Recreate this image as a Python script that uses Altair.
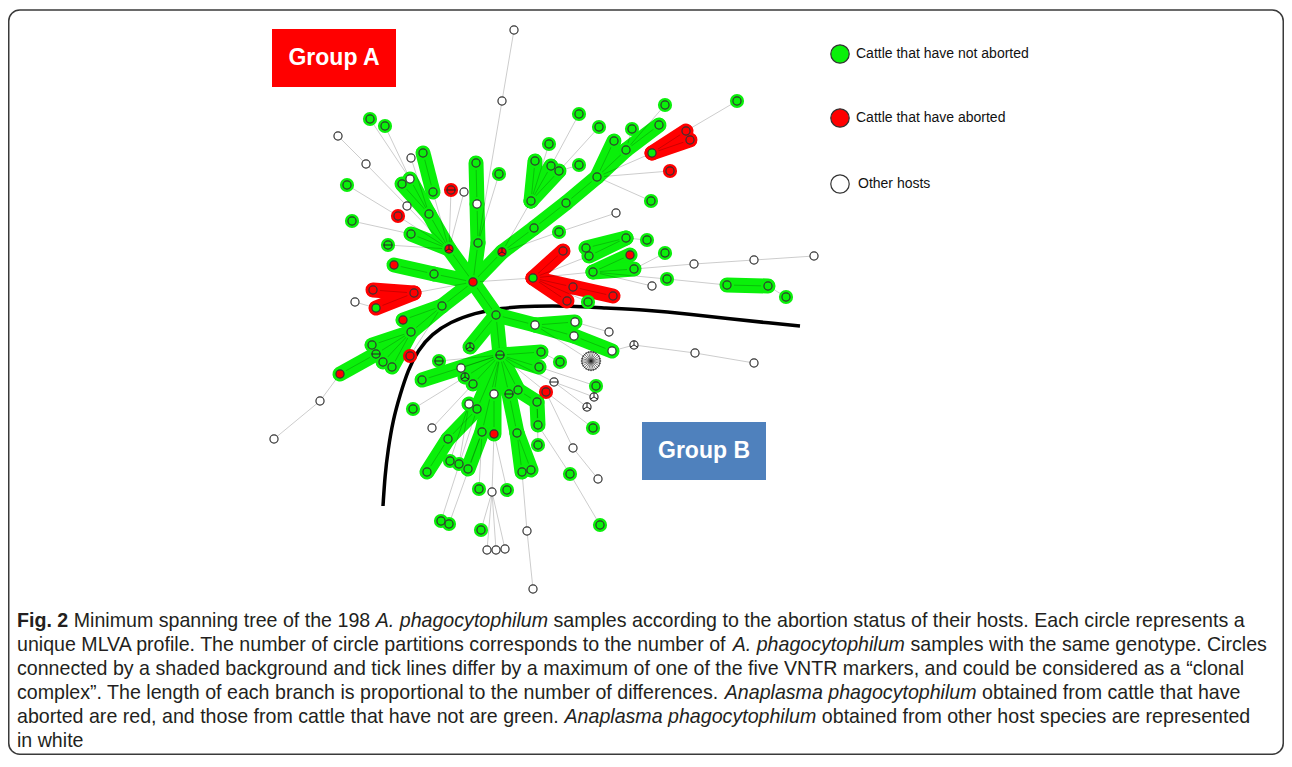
import math
import altair as alt
import pandas as pd

W, H = 1276, 747
PAD = 8
GREEN = "#0af00a"
RED = "#ff0000"

# ---------------- nodes of the minimum spanning tree ----------------
node_x = [473, 423, 433, 410, 402, 429, 449, 411, 451, 464,
          476, 477, 478, 499, 407, 398, 411, 434, 394, 352,
          388, 370, 385, 338, 366, 347, 373, 414, 376, 355,
          442, 403, 411, 372, 376, 383, 392, 340, 320, 274,
          410, 514, 502, 502, 534, 566, 597, 626, 659, 614,
          531, 535, 551, 559, 549, 579, 599, 579, 632, 665,
          737, 652, 686, 690, 670, 651, 616, 559, 533, 563,
          573, 613, 567, 588, 586, 589, 626, 647, 593, 630,
          634, 665, 694, 754, 814, 667, 652, 727, 768, 786,
          496, 535, 575, 574, 612, 609, 634, 695, 754, 591,
          470, 500, 541, 439, 560, 461, 539, 465, 422, 473,
          554, 596, 494, 509, 518, 546, 594, 469, 477, 537,
          587, 413, 593, 432, 448, 482, 494, 517, 538, 538,
          573, 450, 459, 468, 427, 522, 531, 570, 598, 479,
          492, 507, 441, 449, 481, 487, 496, 505, 527, 533,
          600]
node_y = [282, 153, 192, 179, 184, 214, 249, 158, 190, 192,
          163, 204, 243, 174, 206, 216, 234, 274, 265, 221,
          245, 119, 126, 136, 164, 185, 290, 293, 308, 302,
          306, 320, 332, 345, 354, 362, 367, 374, 401, 439,
          356, 30, 101, 252, 228, 203, 177, 150, 125, 141,
          201, 161, 166, 171, 144, 114, 127, 165, 129, 105,
          101, 153, 131, 140, 171, 201, 213, 232, 278, 251,
          287, 296, 301, 302, 248, 256, 238, 240, 272, 255,
          269, 253, 264, 260, 256, 279, 286, 285, 286, 297,
          315, 325, 322, 336, 351, 332, 345, 353, 363, 361,
          347, 355, 352, 361, 362, 368, 367, 377, 380, 384,
          382, 386, 394, 394, 390, 392, 397, 404, 409, 402,
          407, 409, 428, 428, 439, 432, 434, 433, 425, 445,
          448, 461, 464, 469, 472, 472, 470, 474, 479, 489,
          492, 490, 521, 524, 530, 550, 550, 549, 531, 589,
          525]
# host of the profile: g = cattle not aborted, r = aborted, w = other, s = many samples
node_fill = list("rggwggrwrw" "gwggwrggrg" "gggwwgrrgw" "grgggggrww"
                 "rwwrgggggg" "gggggggggg" "ggrrrgwggr" "rrrggggggr"
                 "ggwwwgwggg" "gwwwwwwwws" "gggggwgggg" "wgwggrwwgg"
                 "wggwggrggg" "wgggggggwg" "wggggwwwww" "g")
# shaded background of the clonal complex (- = none)
node_halo = list("ggggggg-r-" "gggg-rgggg" "ggg--grrr-" "gggggggg--"
                 "r--ggggggg" "gggggggggg" "grrrrg-grr" "rrrggggggg"
                 "gg---g-ggg" "ggggg-----" "ggggg-gggg" "-ggggr-ggg"
                 "-gg-gggggg" "-ggggggg-g" "-gggg-----" "g")
# number of partitions drawn inside the circle
node_part = [0, 0, 0, 0, 0, 0, 3, 0, 2, 0,
             0, 0, 0, 0, 0, 0, 0, 0, 0, 0,
             2, 0, 0, 0, 0, 0, 0, 0, 0, 0,
             0, 0, 0, 0, 2, 0, 0, 0, 0, 0,
             0, 0, 0, 3, 0, 0, 0, 0, 0, 0,
             0, 0, 0, 0, 0, 0, 0, 0, 0, 0,
             0, 0, 0, 0, 0, 0, 0, 0, 0, 0,
             0, 0, 0, 0, 0, 0, 0, 0, 0, 0,
             0, 0, 0, 0, 0, 0, 0, 0, 0, 0,
             0, 0, 0, 0, 0, 0, 3, 0, 0, 24,
             3, 2, 0, 2, 0, 0, 0, 3, 0, 0,
             2, 0, 0, 2, 0, 0, 3, 0, 0, 0,
             3, 0, 0, 0, 0, 0, 0, 0, 0, 0,
             0, 0, 0, 0, 0, 0, 0, 0, 0, 0,
             0, 0, 0, 0, 0, 0, 0, 0, 0, 0,
             0]

# clonal complexes: thick shaded links
band_a = [1, 4, 3, 5, 6, 16, 10, 11, 12, 18, 17, 0, 30, 30, 32, 32, 32, 32, 34,
          0, 43, 44, 45, 46, 47, 49, 50, 50, 50, 74, 75, 78, 78, 87,
          0, 90, 91, 91, 93, 90, 90, 101, 101, 101, 101, 101, 101, 112, 101, 125,
          101, 118, 118, 124, 101, 113, 127, 127, 101, 114, 119,
          26, 28, 61, 61, 68, 68, 70, 68]
band_b = [2, 5, 5, 6, 0, 6, 11, 12, 0, 17, 0, 30, 31, 32, 33, 34, 35, 36, 37,
          43, 44, 45, 46, 47, 48, 46, 51, 52, 53, 76, 76, 79, 80, 88,
          90, 91, 92, 93, 94, 100, 101, 102, 106, 108, 107, 109, 112, 126, 125, 133,
          118, 117, 124, 134, 113, 127, 135, 136, 114, 119, 128,
          27, 27, 62, 63, 69, 70, 71, 72]
band_col = ["g"] * 61 + ["r"] * 8

# other branches of the tree: thin lines
edge_a = [41, 42, 2, 7, 8, 9, 13, 14, 15, 21, 22, 23, 24, 25, 19, 20, 29, 27, 40, 37, 38,
          50, 54, 55, 56, 57, 58, 59, 60, 61, 64, 65, 66, 67,
          68, 73, 75, 78, 77, 81, 80, 82, 83, 78, 86, 85, 88,
          99, 95, 94, 96, 97, 103, 105, 104, 111, 110, 115, 116, 120, 122, 130, 138,
          137, 150, 121, 123, 129, 131, 132, 139, 141, 140, 144, 145, 146, 147,
          142, 143, 148, 149]
edge_b = [42, 12, 6, 5, 6, 6, 12, 6, 6, 3, 3, 24, 14, 15, 16, 6, 28, 0, 30, 38, 39,
          43, 50, 52, 53, 53, 47, 47, 62, 46, 46, 46, 67, 43,
          0, 68, 68, 68, 76, 80, 82, 83, 84, 85, 78, 87, 89,
          91, 92, 96, 97, 98, 101, 101, 102, 106, 101, 101, 110, 110, 115, 115, 130,
          128, 137, 107, 109, 119, 117, 117, 125, 126, 126, 140, 140, 140, 140,
          118, 125, 135, 148]

# dividing curve between the two groups
curve_x = [383, 385, 388, 393, 400, 408, 418, 432, 450, 475, 500, 535, 570, 605, 645, 690, 730, 770, 800]
curve_y = [506, 475, 450, 420, 395, 370, 350, 334, 322, 313, 308, 306, 306, 308, 310, 314, 319, 323, 326]

# group labels
group_text = ["Group A", "Group B"]
group_x0 = [272, 642]
group_x1 = [396, 766]
group_y0 = [29, 422]
group_y1 = [87, 480]
group_col = [RED, "#4f81bd"]

# legend
legend_text = ["Cattle that have not aborted", "Cattle that have aborted", "Other hosts"]
legend_fill = [GREEN, RED, "white"]
legend_x = [840, 840, 840]
legend_y = [54, 118, 184]
legend_tx = [856, 856, 858]

# caption (line, text, style: r regular, b bold, i italic)
cap_line = [0, 0, 0, 0,
            1, 1, 1,
            2,
            3, 3, 3,
            4, 4, 4,
            5]
cap_text = ["Fig. 2", " Minimum spanning tree of the 198 ", "A. phagocytophilum",
            " samples according to the abortion status of their hosts. Each circle represents a",
            "unique MLVA profile. The number of circle partitions corresponds to the number of ",
            "A. phagocytophilum", " samples with the same genotype. Circles",
            "connected by a shaded background and tick lines differ by a maximum of one of the five VNTR markers, and could be considered as a \u201cclonal",
            "complex\u201d. The length of each branch is proportional to the number of differences. ",
            "Anaplasma phagocytophilum", " obtained from cattle that have",
            "aborted are red, and those from cattle that have not are green. ",
            "Anaplasma phagocytophilum", " obtained from other host species are represented",
            "in white"]
cap_style = ["b", "r", "i", "r", "r", "i", "r", "r", "r", "i", "r", "r", "i", "r", "r"]
cap_line_y = [621, 645, 669, 693, 717, 741]

# ---------------- text metrics (Liberation Sans = Arial widths) ----------------
REG = {' ': 278, '.': 278, ',': 278, '\u201c': 333, '\u201d': 333}
REG.update({c: 556 for c in "abdeghnopqu0123456789"})
REG.update({c: 500 for c in "cksvxyz"})
REG.update({'f': 278, 'i': 222, 'j': 222, 'l': 222, 'm': 833, 'r': 333, 't': 278, 'w': 722})
REG.update({'A': 667, 'B': 667, 'C': 722, 'E': 667, 'F': 611, 'L': 556, 'M': 833,
            'N': 722, 'R': 722, 'T': 611, 'V': 667})
BOLD = {'F': 611, 'i': 278, 'g': 611, '.': 278, ' ': 278, '2': 556}
KERN = {"LV": -74, "VA": -74, "y.": -55, "r.": -55, "r,": -40, "Te": -74}


def units(s, style):
    tbl = BOLD if style == "b" else REG
    total = sum(tbl.get(ch, 556) for ch in s)
    if style != "b":
        total += sum(KERN.get(s[k:k + 2], 0) for k in range(len(s) - 1))
    return total


line_units = {}
for t, s, l in zip(cap_text, cap_style, cap_line):
    line_units[l] = line_units.get(l, 0) + units(t, s)
CAP_SIZE = round(1250 * 1000 / max(line_units.values()), 2)

cap_rows = []
cursor = {}
for t, s, l in zip(cap_text, cap_style, cap_line):
    x = cursor.get(l, 17.0)
    lead = len(t) - len(t.lstrip(" "))
    cap_rows.append(dict(t=t.strip(" "), st=s,
                         x=x + units(" " * lead, s) * CAP_SIZE / 1000,
                         y=cap_line_y[l]))
    cursor[l] = x + units(t, s) * CAP_SIZE / 1000
cap_df = pd.DataFrame(cap_rows)

# ---------------- frames ----------------
cmap = {"g": GREEN, "r": RED, "w": "white", "s": "white", "-": None}
nodes = pd.DataFrame(dict(x=node_x, y=node_y,
                          fill=[cmap[c] for c in node_fill],
                          halo=[cmap[c] for c in node_halo],
                          part=node_part))
halos = nodes[nodes.halo.notna()]
simple = nodes[nodes.part < 10]
star = nodes[nodes.part >= 10]

bands = pd.DataFrame(dict(x=[node_x[a] for a in band_a], y=[node_y[a] for a in band_a],
                          x2=[node_x[b] for b in band_b], y2=[node_y[b] for b in band_b],
                          c=[cmap[c] for c in band_col]))
all_a = band_a + edge_a
all_b = band_b + edge_b
edges = pd.DataFrame(dict(x=[node_x[a] for a in all_a], y=[node_y[a] for a in all_a],
                          x2=[node_x[b] for b in all_b], y2=[node_y[b] for b in all_b]))
curve = pd.DataFrame(dict(x=curve_x, y=curve_y, i=range(len(curve_x))))
groups = pd.DataFrame(dict(t=group_text, x=group_x0, x2=group_x1, y=group_y0, y2=group_y1,
                           c=group_col,
                           cx=[(a + b) / 2 for a, b in zip(group_x0, group_x1)],
                           cy=[(a + b) / 2 for a, b in zip(group_y0, group_y1)]))
legend = pd.DataFrame(dict(t=legend_text, x=legend_x, y=legend_y, tx=legend_tx, fill=legend_fill))
border = pd.DataFrame(dict(x=[PAD + 0.75], x2=[PAD + W - 0.75], y=[10], y2=[PAD + H - 0.75]))

xs = alt.Scale(domain=[PAD, PAD + W], nice=False, zero=False)
ys = alt.Scale(domain=[PAD, PAD + H], nice=False, zero=False, reverse=True)


def X(f="x"):
    return alt.X(f"{f}:Q", scale=xs, axis=None)


def Y(f="y"):
    return alt.Y(f"{f}:Q", scale=ys, axis=None)


P2 = "M-1,0L1,0"
P3 = "M0,0L0,-1M0,0L0.866,0.5M0,0L-0.866,0.5"
PSTAR = "".join(f"M0,0L{math.cos(2*math.pi*k/24):.3f},{math.sin(2*math.pi*k/24):.3f}" for k in range(24))

layers = []
layers.append(alt.Chart(border).mark_rect(fillOpacity=0, stroke="#3a3a3a", strokeWidth=1.5,
                                          cornerRadius=11).encode(
    x=X(), x2="x2:Q", y=Y(), y2="y2:Q"))
layers.append(alt.Chart(curve).mark_line(color="black", strokeWidth=3.5, interpolate="basis").encode(
    x=X(), y=Y(), order="i:O"))
layers.append(alt.Chart(bands).mark_rule(strokeWidth=15, strokeCap="round", opacity=1).encode(
    x=X(), y=Y(), x2="x2:Q", y2="y2:Q", color=alt.Color("c:N", scale=None)))
layers.append(alt.Chart(edges).mark_rule(strokeWidth=1, color="#000000", opacity=0.2).encode(
    x=X(), y=Y(), x2="x2:Q", y2="y2:Q"))
layers.append(alt.Chart(halos).mark_circle(size=201, opacity=1).encode(
    x=X(), y=Y(), color=alt.Color("halo:N", scale=None)))
layers.append(alt.Chart(simple).mark_circle(size=66, opacity=1, stroke="#333333", strokeWidth=1.2).encode(
    x=X(), y=Y(), fill=alt.Fill("fill:N", scale=None)))
layers.append(alt.Chart(star).mark_circle(size=340, opacity=1, stroke="#333333", strokeWidth=1,
                                          fill="white").encode(x=X(), y=Y()))
layers.append(alt.Chart(star).mark_point(shape=PSTAR, size=420, filled=False, color="#222222",
                                         strokeWidth=0.6, opacity=1).encode(x=X(), y=Y()))
layers.append(alt.Chart(nodes[nodes.part == 2]).mark_point(shape=P2, size=81, filled=False,
                                                          color="#222222", strokeWidth=1, opacity=1).encode(
    x=X(), y=Y()))
layers.append(alt.Chart(nodes[nodes.part == 3]).mark_point(shape=P3, size=81, filled=False,
                                                          color="#222222", strokeWidth=1, opacity=1).encode(
    x=X(), y=Y()))
# legend
layers.append(alt.Chart(legend).mark_point(shape="circle", size=340, filled=True, opacity=1,
                                           stroke="#333333", strokeWidth=1.2).encode(
    x=X(), y=Y(), fill=alt.Fill("fill:N", scale=None)))
layers.append(alt.Chart(legend).mark_text(align="left", baseline="middle", font="Liberation Sans",
                                          fontSize=14, color="#111111").encode(
    x=X("tx"), y=Y(), text="t:N"))
# group boxes
layers.append(alt.Chart(groups).mark_rect(opacity=1).encode(
    x=X(), x2="x2:Q", y=Y(), y2="y2:Q", color=alt.Color("c:N", scale=None)))
layers.append(alt.Chart(groups).mark_text(align="center", baseline="middle", font="Liberation Sans",
                                          fontWeight="bold", fontSize=23, color="white").encode(
    x=X("cx"), y=Y("cy"), text="t:N"))
# caption
for st, kw in [("r", {}), ("b", {"fontWeight": "bold"}), ("i", {"fontStyle": "italic"})]:
    sub = cap_df[cap_df.st == st]
    layers.append(alt.Chart(sub).mark_text(align="left", baseline="middle", font="Liberation Sans",
                                           fontSize=CAP_SIZE, color="#231f20", **kw).encode(
        x=X(), y=Y(), text="t:N"))

chart = alt.layer(*layers).properties(
    width=W, height=H, padding=0, background="white",
    autosize=alt.AutoSizeParams(type="none")
).configure_view(stroke=None)

chart.save("out.html", embed_options={"renderer": "svg", "actions": False})
